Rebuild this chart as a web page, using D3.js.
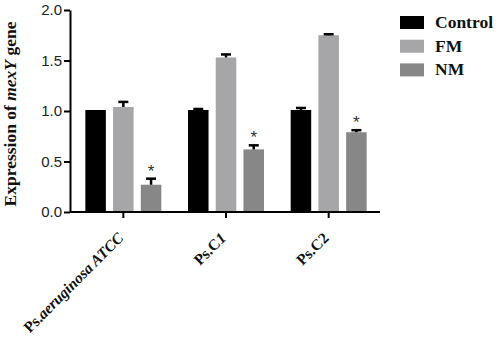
<!DOCTYPE html>
<html>
<head>
<meta charset="utf-8">
<script src="https://cdn.jsdelivr.net/npm/d3@7"></script>
<style>
  body { margin: 0; background: #fff; }
  .tick text { font-family: "Liberation Sans", Arial, sans-serif; }
</style>
</head>
<body>
<div id="chart"></div>
<script>
var svgWidth = 498;
var svgHeight = 343;

// data
var groups = ["Ps.aeruginosa ATCC", "Ps.C1", "Ps.C2"];
var series = ["Control", "FM", "NM"];
var control = [1.01, 1.01, 1.01];
var controlErr = [0.0, 0.01, 0.02];
var fm = [1.04, 1.53, 1.75];
var fmErr = [0.05, 0.03, 0.01];
var nm = [0.27, 0.62, 0.79];
var nmErr = [0.06, 0.04, 0.02];
var nmStar = [true, true, true];   // star drawn above NM bars
var yTicks = [0, 0.5, 1.0, 1.5, 2.0];

var colors = { Control: "#000000", FM: "#a6a6a8", NM: "#878787" };

var rows = [];
groups.forEach(function(g, i) {
    rows.push({ group: g, key: "Control", value: control[i], err: controlErr[i], star: false });
    rows.push({ group: g, key: "FM", value: fm[i], err: fmErr[i], star: false });
    rows.push({ group: g, key: "NM", value: nm[i], err: nmErr[i], star: nmStar[i] });
});

var margin = { left: 70, top: 10, right: 118, bottom: 131 };
var height = svgHeight - margin.top - margin.bottom;   // 202
var width = 310;

var svg = d3.select("#chart")
    .append("svg")
    .attr("width", svgWidth)
    .attr("height", svgHeight);

var chartGroup = svg.append("g")
    .attr("transform", `translate(${margin.left}, ${margin.top})`);

var x0 = d3.scaleBand()
    .domain(groups)
    .range([2, width])
    .paddingInner(0.26)
    .paddingOuter(0.13);

var x1 = d3.scaleBand()
    .domain(series)
    .range([0, x0.bandwidth()])
    .paddingInner(0.26);

var y = d3.scaleLinear()
    .domain([0, 2])
    .range([height, 0]);

// bars
chartGroup.selectAll("rect.bar")
    .data(rows)
    .enter()
    .append("rect")
    .attr("class", "bar")
    .attr("x", d => x0(d.group) + x1(d.key))
    .attr("y", d => y(d.value))
    .attr("width", x1.bandwidth())
    .attr("height", d => y(0) - y(d.value))
    .attr("fill", d => colors[d.key]);

// error bars (upper only)
var errs = chartGroup.selectAll("g.err")
    .data(rows.filter(d => d.err > 0))
    .enter()
    .append("g")
    .attr("class", "err")
    .attr("stroke", "#000")
    .attr("stroke-width", 2.5);

errs.append("line")
    .attr("x1", d => x0(d.group) + x1(d.key) + x1.bandwidth() / 2)
    .attr("x2", d => x0(d.group) + x1(d.key) + x1.bandwidth() / 2)
    .attr("y1", d => y(d.value))
    .attr("y2", d => y(d.value + d.err));

errs.append("line")
    .attr("x1", d => x0(d.group) + x1(d.key) + x1.bandwidth() / 2 - 5)
    .attr("x2", d => x0(d.group) + x1(d.key) + x1.bandwidth() / 2 + 5)
    .attr("y1", d => y(d.value + d.err))
    .attr("y2", d => y(d.value + d.err));

// significance stars
chartGroup.selectAll("text.star")
    .data(rows.filter(d => d.star))
    .enter()
    .append("text")
    .attr("class", "star")
    .attr("x", d => x0(d.group) + x1(d.key) + x1.bandwidth() / 2)
    .attr("y", d => y(d.value + d.err) - 2)
    .attr("text-anchor", "middle")
    .attr("font-family", "Liberation Sans, Arial, sans-serif")
    .attr("font-size", "17px")
    .attr("fill", "#333")
    .text("*");

// axes
var leftAxis = d3.axisLeft(y)
    .tickValues(yTicks)
    .tickFormat(d3.format(".1f"))
    .tickSize(6)
    .tickSizeOuter(0);

var yAxisG = chartGroup.append("g")
    .call(leftAxis);
yAxisG.selectAll("text").attr("font-size", "15px").attr("fill", "#222").attr("dx", "1");
yAxisG.selectAll("line, path").attr("stroke", "#000").attr("stroke-width", 2);

var bottomAxis = d3.axisBottom(x0)
    .tickSize(6)
    .tickSizeOuter(0)
    .tickFormat("");

var xAxisG = chartGroup.append("g")
    .attr("transform", `translate(0, ${height})`)
    .call(bottomAxis);
xAxisG.select("path").attr("d", `M0,0H${width}`);
xAxisG.selectAll("line, path").attr("stroke", "#000").attr("stroke-width", 2);

// x labels, rotated
var labelParts = [
    [["Ps.", "normal"], ["aeruginosa ATCC", "italic"]],
    [["Ps.C", "normal"], ["1", "italic"]],
    [["Ps.C", "normal"], ["2", "normal"]]
];

groups.forEach(function(g, i) {
    var cx = x0(g) + x0.bandwidth() / 2;
    var t = chartGroup.append("text")
        .attr("transform", `translate(${cx + 1}, ${height + 27}) rotate(-45)`)
        .attr("text-anchor", "end")
        .attr("font-family", "Liberation Serif, Times New Roman, serif")
        .attr("font-weight", "bold")
        .attr("font-size", "15.5px")
        .attr("fill", "#111");
    labelParts[i].forEach(function(p) {
        t.append("tspan").attr("font-style", p[1]).text(p[0]);
    });
});

// y label
var yl = chartGroup.append("text")
    .attr("transform", `translate(${-54}, ${height / 2 + 3}) rotate(-90)`)
    .attr("text-anchor", "middle")
    .attr("font-family", "Liberation Serif, Times New Roman, serif")
    .attr("font-weight", "bold")
    .attr("font-size", "17.5px")
    .attr("fill", "#111");
yl.append("tspan").text("Expression of ");
yl.append("tspan").attr("font-style", "italic").text("mexY");
yl.append("tspan").text(" gene");

// legend
var legend = svg.append("g")
    .attr("transform", "translate(400, 16)");

var legendRows = legend.selectAll("g")
    .data(series)
    .enter()
    .append("g")
    .attr("transform", (d, i) => `translate(0, ${i * 23.7})`);

legendRows.append("rect")
    .attr("width", 24)
    .attr("height", 13)
    .attr("fill", d => colors[d]);

legendRows.append("text")
    .attr("x", 35)
    .attr("y", 12)
    .attr("font-family", "Liberation Serif, Times New Roman, serif")
    .attr("font-weight", "bold")
    .attr("font-size", "17.5px")
    .attr("fill", "#111")
    .text(d => d);
</script>
</body>
</html>
